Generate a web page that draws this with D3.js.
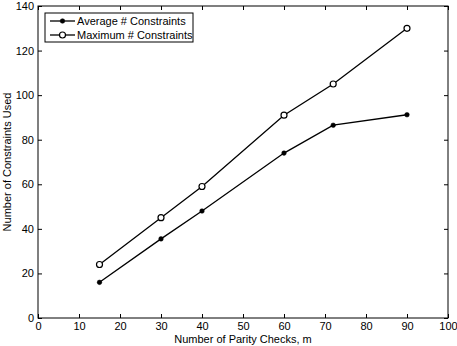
<!DOCTYPE html>
<html>
<head>
<meta charset="utf-8">
<script src="https://cdn.jsdelivr.net/npm/d3@7"></script>
<style>
  body { margin: 0; background: #fff; }
  text { font-family: "Liberation Sans", Arial, sans-serif; fill: #000; }
</style>
</head>
<body>
<div id="vis-holder"></div>
<script>
// Data
const parityChecks = [15, 30, 40, 60, 72, 90];
const avgConstraints = [16, 35.5, 48, 74, 86.5, 91.2];
const maxConstraints = [24, 45, 59, 91, 105, 130];
const xTicks = [0, 10, 20, 30, 40, 50, 60, 70, 80, 90, 100];
const yTicks = [0, 20, 40, 60, 80, 100, 120, 140];
const seriesNames = ["Average # Constraints", "Maximum # Constraints"];

const width = 457;
const height = 346;
const margin = { top: 6, right: 9, bottom: 28, left: 38 };

const svg = d3.select("#vis-holder")
  .append("svg")
  .attr("width", width)
  .attr("height", height);

const x = d3.scaleLinear()
  .domain([0, 100])
  .range([margin.left, width - margin.right]);

const y = d3.scaleLinear()
  .domain([0, 140])
  .range([height - margin.bottom, margin.top]);

// axes, ticks pointing inward like matlab
svg.append("g")
  .attr("transform", `translate(0,${height - margin.bottom})`)
  .call(d3.axisBottom(x).tickValues(xTicks).tickSize(-4).tickPadding(4).tickSizeOuter(0))
  .attr("font-size", "11px")
  .call(g => g.select(".domain").remove());

svg.append("g")
  .attr("transform", `translate(0,${margin.top})`)
  .call(d3.axisTop(x).tickValues(xTicks).tickSize(-4).tickFormat("").tickSizeOuter(0))
  .call(g => g.select(".domain").remove());

svg.append("g")
  .attr("transform", `translate(${margin.left},0)`)
  .call(d3.axisLeft(y).tickValues(yTicks).tickSize(-4).tickPadding(4).tickSizeOuter(0))
  .attr("font-size", "11px")
  .call(g => g.select(".domain").remove());

svg.append("g")
  .attr("transform", `translate(${width - margin.right},0)`)
  .call(d3.axisRight(y).tickValues(yTicks).tickSize(-4).tickFormat("").tickSizeOuter(0))
  .call(g => g.select(".domain").remove());

// box
svg.append("rect")
  .attr("x", x(0))
  .attr("y", y(140))
  .attr("width", x(100) - x(0))
  .attr("height", y(0) - y(140))
  .attr("fill", "none")
  .attr("stroke", "#000")
  .attr("stroke-width", 1);

svg.selectAll(".tick text").attr("fill", "#000").style("font-family", "Liberation Sans, Arial, sans-serif");
svg.selectAll(".tick line").attr("stroke", "#000");

// axis labels
svg.append("text")
  .attr("x", (x(0) + x(100)) / 2)
  .attr("y", height - 3)
  .attr("text-anchor", "middle")
  .attr("font-size", "11px")
  .text("Number of Parity Checks, m");

svg.append("text")
  .attr("transform", `translate(11,${(y(0) + y(140)) / 2}) rotate(-90)`)
  .attr("text-anchor", "middle")
  .attr("font-size", "11px")
  .text("Number of Constraints Used");

// lines
const line = d3.line()
  .x((d, i) => x(parityChecks[i]))
  .y(d => y(d));

[avgConstraints, maxConstraints].forEach((vals, k) => {
  svg.append("path")
    .datum(vals)
    .attr("d", line)
    .attr("fill", "none")
    .attr("stroke", "#000")
    .attr("stroke-width", 1.3);

  svg.selectAll(".pt" + k)
    .data(vals)
    .enter()
    .append("circle")
    .attr("cx", (d, i) => x(parityChecks[i]))
    .attr("cy", d => y(d))
    .attr("r", k === 0 ? 2.3 : 3)
    .attr("fill", k === 0 ? "#000" : "#fff")
    .attr("stroke", "#000")
    .attr("stroke-width", k === 0 ? 0.5 : 1.2);
});

// legend
const legend = svg.append("g").attr("transform", "translate(45,13)");
legend.append("rect")
  .attr("width", 148)
  .attr("height", 29)
  .attr("fill", "#fff")
  .attr("stroke", "#000")
  .attr("stroke-width", 1);

seriesNames.forEach((name, k) => {
  const yy = 8 + k * 14;
  legend.append("line")
    .attr("x1", 5).attr("x2", 30)
    .attr("y1", yy).attr("y2", yy)
    .attr("stroke", "#000")
    .attr("stroke-width", 1.3);
  legend.append("circle")
    .attr("cx", 17.5).attr("cy", yy)
    .attr("r", k === 0 ? 2.3 : 3)
    .attr("fill", k === 0 ? "#000" : "#fff")
    .attr("stroke", "#000")
    .attr("stroke-width", k === 0 ? 0.5 : 1.2);
  legend.append("text")
    .attr("x", 32)
    .attr("y", yy + 4)
    .attr("font-size", "11px")
    .text(name);
});
</script>
</body>
</html>
